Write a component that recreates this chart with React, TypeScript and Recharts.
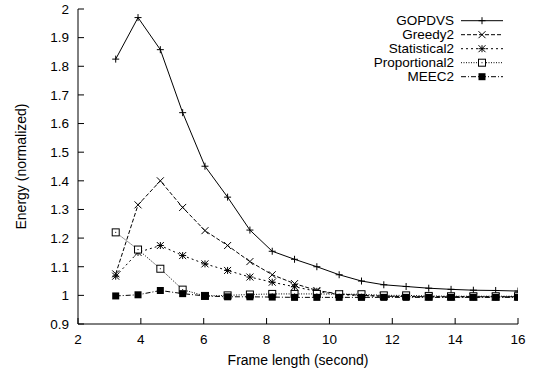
import React from 'react';
import { LineChart, Line, XAxis, YAxis, Legend } from 'recharts';

// Frame length (second)
const frameLengths = [3.2, 3.91, 4.62, 5.33, 6.04, 6.76, 7.47, 8.18, 8.89, 9.6, 10.31, 11.02, 11.73, 12.44, 13.16, 13.87, 14.58, 15.29, 16.0];

const gopdvs = [1.825, 1.97, 1.858, 1.638, 1.451, 1.343, 1.228, 1.154, 1.126, 1.1, 1.072, 1.05, 1.037, 1.031, 1.025, 1.021, 1.018, 1.017, 1.015];
const greedy2 = [1.075, 1.316, 1.4, 1.307, 1.226, 1.174, 1.118, 1.072, 1.041, 1.017, 1.005, 1.0, 0.997, 0.996, 0.995, 0.995, 0.995, 0.995, 0.995];
const statistical2 = [1.067, 1.15, 1.174, 1.139, 1.11, 1.087, 1.064, 1.046, 1.03, 1.014, 1.003, 0.999, 0.997, 0.996, 0.995, 0.995, 0.995, 0.995, 0.995];
const proportional2 = [1.22, 1.16, 1.093, 1.02, 0.998, 1.0, 1.003, 1.005, 1.005, 1.005, 1.004, 1.004, 1.0, 1.0, 0.998, 0.997, 0.997, 0.997, 0.997];
const meec2 = [0.998, 1.002, 1.017, 1.006, 0.998, 0.995, 0.995, 0.994, 0.993, 0.993, 0.993, 0.993, 0.993, 0.993, 0.993, 0.993, 0.993, 0.993, 0.993];

const seriesNames = ['GOPDVS', 'Greedy2', 'Statistical2', 'Proportional2', 'MEEC2'];
const seriesKeys = ['gopdvs', 'greedy2', 'statistical2', 'proportional2', 'meec2'];

const xTicks = [2, 4, 6, 8, 10, 12, 14, 16];
const yTicks = [0.9, 1, 1.1, 1.2, 1.3, 1.4, 1.5, 1.6, 1.7, 1.8, 1.9, 2];

const data = frameLengths.map((x, i) => ({
  x,
  gopdvs: gopdvs[i],
  greedy2: greedy2[i],
  statistical2: statistical2[i],
  proportional2: proportional2[i],
  meec2: meec2[i],
}));

const styles: Record<string, { dash?: string; marker: string; width: number }> = {
  gopdvs: { dash: undefined, marker: 'plus', width: 1 },
  greedy2: { dash: '4 2', marker: 'cross', width: 1 },
  statistical2: { dash: '2 3', marker: 'star', width: 1 },
  proportional2: { dash: '1 1.5', marker: 'box', width: 1 },
  meec2: { dash: '5 2 1 2', marker: 'fbox', width: 1 },
};

const FONT = '"Liberation Sans", Arial, Helvetica, sans-serif';

function Marker({ type, cx, cy }: { type: string; cx: number; cy: number }) {
  const s = 3.5;
  if (cx == null || cy == null) return null;
  const plus = (
    <>
      <line x1={cx - s} y1={cy} x2={cx + s} y2={cy} />
      <line x1={cx} y1={cy - s} x2={cx} y2={cy + s} />
    </>
  );
  const cross = (
    <>
      <line x1={cx - s} y1={cy - s} x2={cx + s} y2={cy + s} />
      <line x1={cx - s} y1={cy + s} x2={cx + s} y2={cy - s} />
    </>
  );
  switch (type) {
    case 'plus':
      return <g stroke="#000" strokeWidth={1}>{plus}</g>;
    case 'cross':
      return <g stroke="#000" strokeWidth={1}>{cross}</g>;
    case 'star':
      return <g stroke="#000" strokeWidth={1}>{plus}{cross}</g>;
    case 'box':
      return (
        <g>
          <rect x={cx - 3.5} y={cy - 3.5} width={7} height={7} fill="#fff" stroke="#000" strokeWidth={1} />
          <rect x={cx - 0.5} y={cy - 0.5} width={1} height={1} fill="#000" />
        </g>
      );
    case 'fbox':
      return <rect x={cx - 3.5} y={cy - 3.5} width={7} height={7} fill="#000" />;
    default:
      return null;
  }
}

function LegendBox() {
  return (
    <svg width={150} height={80} style={{ overflow: 'visible', fontFamily: FONT }}>
      {seriesKeys.map((k, i) => {
        const y = 10.7 + i * 14;
        const st = styles[k];
        return (
          <g key={k}>
            <text x={84} y={y} textAnchor="end" dominantBaseline="central" fontSize={13.5} fill="#000">
              {seriesNames[i]}
            </text>
            <line x1={91} y1={y} x2={133} y2={y} stroke="#000" strokeWidth={st.width} strokeDasharray={st.dash} />
            <Marker type={st.marker} cx={112} cy={y} />
          </g>
        );
      })}
    </svg>
  );
}

function XTitle(props: any) {
  const vb = props.viewBox || { x: 78, y: 324, width: 440 };
  const cx = vb.x + vb.width / 2;
  return (
    <text x={cx} y={vb.y + 36} textAnchor="middle" dominantBaseline="central" fontSize={14} fill="#000" fontFamily={FONT}>
      Frame length (second)
    </text>
  );
}

function YTitle(props: any) {
  const vb = props.viewBox || { x: 0, y: 9, height: 315 };
  const cy = vb.y + vb.height / 2;
  const cx = 21;
  return (
    <text
      x={cx}
      y={cy}
      textAnchor="middle"
      dominantBaseline="central"
      transform={`rotate(-90, ${cx}, ${cy})`}
      fontSize={14}
      fill="#000"
      fontFamily={FONT}
    >
      Energy (normalized)
    </text>
  );
}

export default function App() {
  return (
    <div style={{ position: 'absolute', left: 0, top: 0, width: 540, height: 373, background: '#fff' }}>
      <LineChart
        width={540}
        height={373}
        data={data}
        margin={{ top: 9, right: 22, bottom: 0, left: 0 }}
        style={{ fontFamily: FONT }}
      >
        <XAxis
          dataKey="x"
          type="number"
          domain={[2, 16]}
          ticks={xTicks}
          allowDataOverflow
          height={49}
          tickSize={-6}
          tickMargin={16}
          axisLine={{ stroke: '#000', strokeWidth: 1 }}
          tickLine={{ stroke: '#000', strokeWidth: 1 }}
          tick={{ fontSize: 13.5, fill: '#000' }}
          label={<XTitle />}
          interval={0}
        />
        <XAxis
          xAxisId="top"
          orientation="top"
          type="number"
          domain={[2, 16]}
          ticks={xTicks}
          allowDataOverflow
          height={0}
          tickSize={-6}
          axisLine={{ stroke: '#000', strokeWidth: 1 }}
          tickLine={{ stroke: '#000', strokeWidth: 1 }}
          tick={false}
          interval={0}
        />
        <YAxis
          type="number"
          domain={[0.9, 2]}
          ticks={yTicks}
          allowDataOverflow
          width={78}
          tickSize={-6}
          tickMargin={15}
          axisLine={{ stroke: '#000', strokeWidth: 1 }}
          tickLine={{ stroke: '#000', strokeWidth: 1 }}
          tick={{ fontSize: 13.5, fill: '#000' }}
          label={<YTitle />}
          interval={0}
        />
        <YAxis
          yAxisId="right"
          orientation="right"
          type="number"
          domain={[0.9, 2]}
          ticks={yTicks}
          allowDataOverflow
          width={0}
          tickSize={-6}
          axisLine={{ stroke: '#000', strokeWidth: 1 }}
          tickLine={{ stroke: '#000', strokeWidth: 1 }}
          tick={false}
          interval={0}
        />
        <Legend
          layout="vertical"
          align="center"
          verticalAlign="middle"
          content={() => <LegendBox />}
          wrapperStyle={{ position: 'absolute', left: 370, top: 10, width: 150, height: 80 }}
        />
        {seriesKeys.map((k, i) => (
          <Line
            key={k}
            dataKey={k}
            name={seriesNames[i]}
            stroke="#000"
            strokeWidth={styles[k].width}
            strokeDasharray={styles[k].dash}
            isAnimationActive={false}
            dot={(p: any) => <Marker key={`${k}-${p.index}`} type={styles[k].marker} cx={p.cx} cy={p.cy} />}
            activeDot={false}
          />
        ))}
      </LineChart>
    </div>
  );
}
